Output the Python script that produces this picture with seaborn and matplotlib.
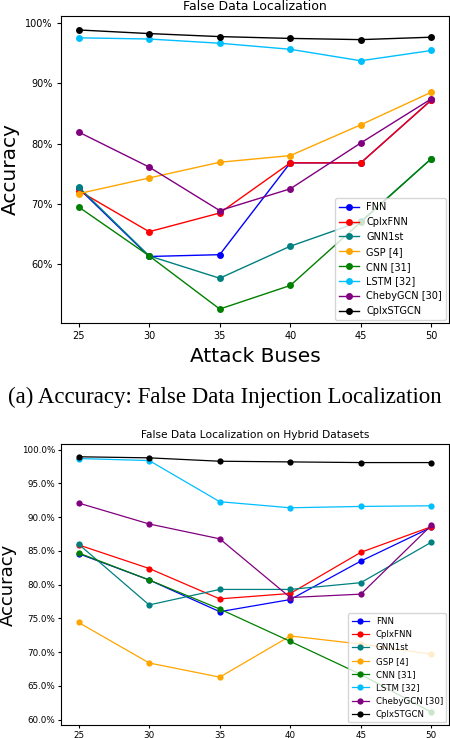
import matplotlib
matplotlib.use("Agg")
import matplotlib.pyplot as plt
from matplotlib.ticker import PercentFormatter, MultipleLocator
import seaborn as sns

# Attack buses on the x axis
buses = [25, 30, 35, 40, 45, 50]

models = ["FNN", "CplxFNN", "GNN1st", "GSP [4]", "CNN [31]", "LSTM [32]",
          "ChebyGCN [30]", "CplxSTGCN"]
colors = ["blue", "red", "teal", "orange", "green", "deepskyblue", "purple", "black"]

# (a) False Data Localization - accuracy in %
fnn_a = [72.6, 61.3, 61.6, 76.8, 76.8, 87.2]
cplxfnn_a = [72.2, 65.4, 68.5, 76.8, 76.8, 87.2]
gnn1st_a = [72.8, 61.4, 57.7, 63.0, 67.1, 77.5]
gsp_a = [71.7, 74.3, 76.9, 78.0, 83.1, 88.5]
cnn_a = [69.5, 61.4, 52.6, 56.5, 67.0, 77.5]
lstm_a = [97.5, 97.3, 96.6, 95.6, 93.7, 95.4]
cheby_a = [81.9, 76.1, 68.9, 72.5, 80.1, 87.4]
stgcn_a = [98.8, 98.2, 97.7, 97.4, 97.2, 97.6]

# (b) False Data Localization on Hybrid Datasets - accuracy in %
fnn_b = [84.6, 80.7, 76.0, 77.8, 83.5, 88.5]
cplxfnn_b = [85.9, 82.4, 77.9, 78.7, 84.8, 88.6]
gnn1st_b = [86.0, 77.0, 79.3, 79.3, 80.3, 86.3]
gsp_b = [74.4, 68.4, 66.3, 72.4, 71.2, 69.7]
cnn_b = [84.7, 80.7, 76.4, 71.6, 66.7, 61.1]
lstm_b = [98.7, 98.4, 92.3, 91.4, 91.6, 91.7]
cheby_b = [92.1, 89.0, 86.8, 78.1, 78.6, 88.8]
stgcn_b = [98.96, 98.8, 98.3, 98.2, 98.1, 98.1]

series_a = [fnn_a, cplxfnn_a, gnn1st_a, gsp_a, cnn_a, lstm_a, cheby_a, stgcn_a]
series_b = [fnn_b, cplxfnn_b, gnn1st_b, gsp_b, cnn_b, lstm_b, cheby_b, stgcn_b]

fig = plt.figure(figsize=(4.5, 7.38), dpi=100)
W, H = 450, 738

# top panel
ax1 = fig.add_axes([61 / W, 1 - 323 / H, 388 / W, 307 / H])
for name, c, vals in zip(models, colors, series_a):
    sns.lineplot(x=buses, y=vals, color=c, marker="o", markersize=5,
                 markeredgewidth=0, linewidth=1, label=name, ax=ax1)
ax1.set_title("False Data Localization", fontsize=9, pad=4)
ax1.set_xlabel("Attack Buses", fontsize=14.5, labelpad=4)
ax1.set_ylabel("Accuracy", fontsize=14.5)
ax1.set_xticks(buses)
ax1.yaxis.set_major_locator(MultipleLocator(10))
ax1.yaxis.set_major_formatter(PercentFormatter(decimals=0))
ax1.tick_params(labelsize=7, length=3, pad=3)
ax1.legend(loc="lower right", fontsize=7, handlelength=2, borderaxespad=0.3)

fig.text(0.5, 1 - 397 / H, "(a) Accuracy: False Data Injection Localization",
         ha="center", va="center", fontsize=16.5, family="Liberation Serif")

# bottom panel
ax2 = fig.add_axes([61 / W, 1 - 725 / H, 388 / W, 281 / H])
for name, c, vals in zip(models, colors, series_b):
    sns.lineplot(x=buses, y=vals, color=c, marker="o", markersize=4.5,
                 markeredgewidth=0, linewidth=0.9, label=name, ax=ax2)
ax2.set_title("False Data Localization on Hybrid Datasets", fontsize=7.7, pad=4)
ax2.set_xlabel("")
ax2.set_ylabel("Accuracy", fontsize=13)
ax2.set_xticks(buses)
ax2.yaxis.set_major_locator(MultipleLocator(5))
ax2.yaxis.set_major_formatter(PercentFormatter(decimals=1))
ax2.tick_params(labelsize=6.3, length=2.5, pad=1.5)
ax2.legend(loc="lower right", fontsize=6.2, handlelength=2, borderaxespad=0.3)

fig.savefig("out.png", dpi=100)
